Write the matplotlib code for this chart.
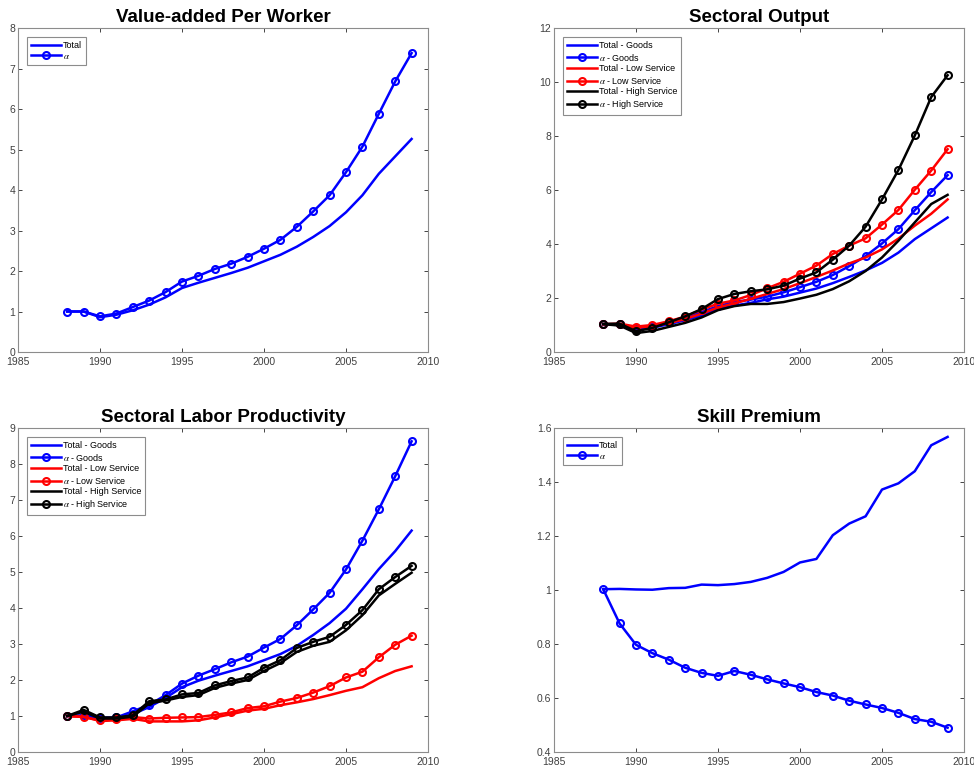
import matplotlib
matplotlib.use("Agg")
import matplotlib.pyplot as plt

plt.rcParams["font.family"] = ["Liberation Sans", "DejaVu Sans"]
plt.rcParams["mathtext.fontset"] = "stix"

years = list(range(1988, 2010))

# Value-added per worker
va_total = [1.00, 1.00, 0.86, 0.92, 1.03, 1.17, 1.35, 1.58, 1.71, 1.83, 1.95,
            2.08, 2.24, 2.40, 2.60, 2.84, 3.11, 3.45, 3.87, 4.40, 4.83, 5.26]
va_alpha = [1.00, 1.00, 0.88, 0.95, 1.11, 1.27, 1.48, 1.74, 1.88, 2.05, 2.18,
            2.35, 2.55, 2.77, 3.09, 3.47, 3.87, 4.44, 5.07, 5.88, 6.68, 7.38]

# Sectoral output
out_tot_goods = [1.03, 1.00, 0.82, 0.90, 1.03, 1.18, 1.35, 1.60, 1.72, 1.82, 1.95,
                 2.05, 2.20, 2.35, 2.55, 2.78, 3.02, 3.30, 3.68, 4.18, 4.58, 4.98]
out_alpha_goods = [1.03, 1.03, 0.86, 0.95, 1.10, 1.28, 1.48, 1.70, 1.85, 1.94, 2.05,
                   2.21, 2.40, 2.60, 2.85, 3.18, 3.55, 4.02, 4.55, 5.25, 5.92, 6.55]
out_tot_low = [1.03, 1.00, 0.90, 0.95, 1.07, 1.22, 1.42, 1.65, 1.80, 1.97, 2.15,
               2.33, 2.55, 2.78, 3.02, 3.28, 3.50, 3.80, 4.20, 4.68, 5.12, 5.65]
out_alpha_low = [1.03, 1.05, 0.94, 1.00, 1.14, 1.31, 1.57, 1.79, 1.91, 2.11, 2.36,
                 2.60, 2.90, 3.20, 3.63, 3.94, 4.21, 4.72, 5.26, 6.01, 6.72, 7.51]
out_tot_high = [1.03, 0.98, 0.70, 0.78, 0.93, 1.08, 1.28, 1.55, 1.70, 1.78, 1.78,
                1.85, 1.98, 2.12, 2.33, 2.62, 3.00, 3.50, 4.12, 4.80, 5.48, 5.82]
out_alpha_high = [1.04, 1.05, 0.77, 0.89, 1.10, 1.32, 1.59, 1.96, 2.15, 2.25, 2.32,
                  2.46, 2.72, 2.95, 3.42, 3.94, 4.64, 5.65, 6.74, 8.02, 9.44, 10.25]

# Sectoral labor productivity
lp_tot_goods = [1.00, 1.00, 0.92, 0.93, 1.05, 1.25, 1.50, 1.80, 1.98, 2.12, 2.25,
                2.38, 2.55, 2.72, 2.95, 3.25, 3.58, 3.98, 4.52, 5.08, 5.58, 6.15]
lp_alpha_goods = [1.00, 1.02, 0.95, 0.96, 1.13, 1.31, 1.58, 1.90, 2.12, 2.30, 2.49,
                  2.65, 2.90, 3.14, 3.52, 3.96, 4.42, 5.07, 5.87, 6.74, 7.66, 8.63]
lp_tot_low = [1.00, 0.98, 0.86, 0.88, 0.92, 0.85, 0.85, 0.85, 0.88, 0.96, 1.05,
              1.15, 1.20, 1.30, 1.38, 1.47, 1.58, 1.70, 1.80, 2.05, 2.25, 2.38]
lp_alpha_low = [1.00, 0.97, 0.88, 0.92, 0.97, 0.93, 0.95, 0.96, 0.97, 1.03, 1.10,
                1.22, 1.27, 1.40, 1.50, 1.65, 1.83, 2.07, 2.23, 2.63, 2.98, 3.23]
lp_tot_high = [1.00, 1.12, 0.93, 0.93, 0.98, 1.35, 1.43, 1.53, 1.58, 1.78, 1.90,
               2.00, 2.25, 2.47, 2.78, 2.95, 3.06, 3.38, 3.80, 4.35, 4.67, 4.98]
lp_alpha_high = [1.00, 1.17, 0.96, 0.96, 1.02, 1.41, 1.46, 1.60, 1.64, 1.85, 1.97,
                 2.07, 2.34, 2.55, 2.89, 3.06, 3.20, 3.53, 3.94, 4.52, 4.86, 5.17]

# Skill premium
sp_total = [1.003, 1.004, 1.002, 1.001, 1.007, 1.008, 1.020, 1.018, 1.022, 1.030, 1.045,
            1.067, 1.102, 1.115, 1.203, 1.246, 1.273, 1.372, 1.395, 1.440, 1.536, 1.567]
sp_alpha = [1.003, 0.876, 0.797, 0.766, 0.742, 0.712, 0.693, 0.682, 0.700, 0.686, 0.669,
            0.654, 0.640, 0.622, 0.609, 0.590, 0.576, 0.563, 0.545, 0.522, 0.512, 0.490]

fig = plt.figure(figsize=(9.74, 7.71), dpi=100)
W, H = 974, 771
boxes = [(18, 28), (554, 28), (18, 428), (554, 428)]
axes = [fig.add_axes([x / W, (H - y - 324) / H, 410 / W, 324 / H]) for x, y in boxes]

lw = 1.8
ms = 5


def style(ax, title, ylim, yticks):
    ax.set_xlim(1985, 2010)
    ax.set_xticks([1985, 1990, 1995, 2000, 2005, 2010])
    ax.set_ylim(*ylim)
    ax.set_yticks(yticks)
    ax.set_yticklabels([f"{t:g}" for t in yticks])
    ax.set_title(title, fontsize=13.5, fontweight="bold", pad=4)
    ax.tick_params(direction="in", top=True, right=True, length=3, width=0.6,
                   labelsize=7.5, colors="#262626", labelcolor="#404040", pad=2)
    ax.tick_params(axis="x", pad=3.5)
    for s in ax.spines.values():
        s.set_color("#8c8c8c")
        s.set_linewidth(0.8)


def legend(ax):
    leg = ax.legend(loc="upper left", fontsize=6.5, fancybox=False, handlelength=3.3,
                    borderpad=0.45, labelspacing=0.17, handletextpad=0.2,
                    borderaxespad=1.0, framealpha=1)
    leg.get_frame().set_edgecolor("#8c8c8c")
    leg.get_frame().set_linewidth(0.8)


def circ(color):
    return dict(marker="o", markersize=ms, markerfacecolor="none",
                markeredgecolor=color, markeredgewidth=1.5)


A = r"$\alpha$"

ax = axes[0]
ax.plot(years, va_total, color="blue", lw=lw, label="Total")
ax.plot(years, va_alpha, color="blue", lw=lw, label=A, **circ("blue"))
style(ax, "Value-added Per Worker", (0, 8), list(range(0, 9)))
legend(ax)

ax = axes[1]
ax.plot(years, out_tot_goods, color="blue", lw=lw, label="Total - Goods")
ax.plot(years, out_alpha_goods, color="blue", lw=lw, label=A + " - Goods", **circ("blue"))
ax.plot(years, out_tot_low, color="red", lw=lw, label="Total - Low Service")
ax.plot(years, out_alpha_low, color="red", lw=lw, label=A + " - Low Service", **circ("red"))
ax.plot(years, out_tot_high, color="black", lw=lw, label="Total - High Service")
ax.plot(years, out_alpha_high, color="black", lw=lw, label=A + " - High Service", **circ("black"))
style(ax, "Sectoral Output", (0, 12), list(range(0, 13, 2)))
legend(ax)

ax = axes[2]
ax.plot(years, lp_tot_goods, color="blue", lw=lw, label="Total - Goods")
ax.plot(years, lp_alpha_goods, color="blue", lw=lw, label=A + " - Goods", **circ("blue"))
ax.plot(years, lp_tot_low, color="red", lw=lw, label="Total - Low Service")
ax.plot(years, lp_alpha_low, color="red", lw=lw, label=A + " - Low Service", **circ("red"))
ax.plot(years, lp_tot_high, color="black", lw=lw, label="Total - High Service")
ax.plot(years, lp_alpha_high, color="black", lw=lw, label=A + " - High Service", **circ("black"))
style(ax, "Sectoral Labor Productivity", (0, 9), list(range(0, 10)))
legend(ax)

ax = axes[3]
ax.plot(years, sp_total, color="blue", lw=lw, label="Total")
ax.plot(years, sp_alpha, color="blue", lw=lw, label=A, **circ("blue"))
style(ax, "Skill Premium", (0.4, 1.6), [0.4, 0.6, 0.8, 1.0, 1.2, 1.4, 1.6])
legend(ax)

fig.savefig("out.png", dpi=100)
